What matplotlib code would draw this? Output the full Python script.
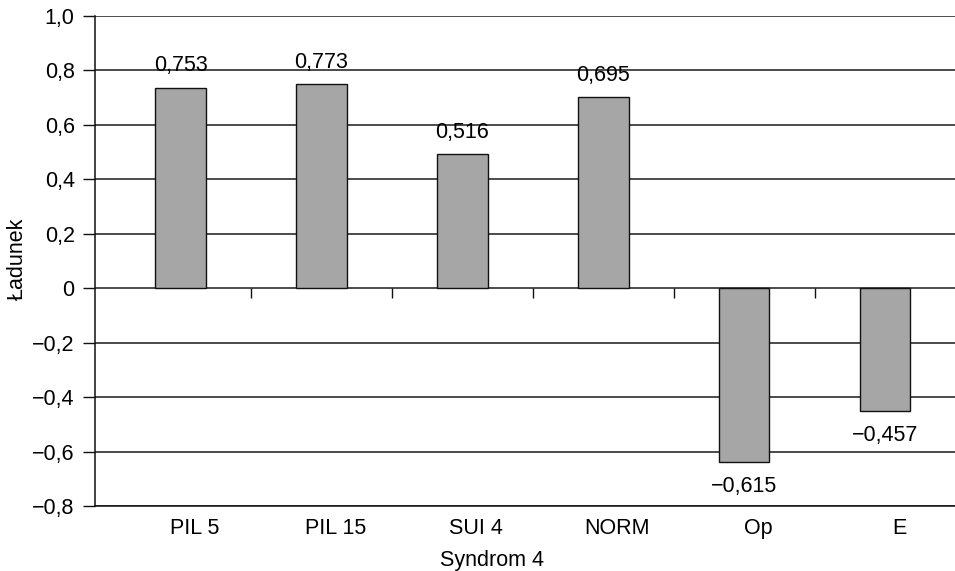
import matplotlib
matplotlib.use("Agg")
import matplotlib.pyplot as plt
import matplotlib.transforms as mtransforms
import numpy as np

plt.rcParams['font.family'] = ['Liberation Sans', 'DejaVu Sans']

categories = ["PIL 5", "PIL 15", "SUI 4", "NORM", "Op", "E"]
bar_values = [0.737, 0.749, 0.492, 0.702, -0.639, -0.452]
value_labels = ["0,753", "0,773", "0,516", "0,695", "\u22120,615", "\u22120,457"]
y_ticks = [-0.8, -0.6, -0.4, -0.2, 0.0, 0.2, 0.4, 0.6, 0.8, 1.0]
y_tick_labels = ["\u22120,8", "\u22120,6", "\u22120,4", "\u22120,2", "0",
                 "0,2", "0,4", "0,6", "0,8", "1,0"]
x_label = "Syndrom 4"
y_label = "Ładunek"

FS = 15.5

fig = plt.figure(figsize=(9.55, 5.71), dpi=100)
ax = fig.add_axes([95/955, 1-506/571, 1-95/955 + 0.02, (506-16)/571])

x = np.arange(len(categories))
ymin, ymax = y_ticks[0], y_ticks[-1]
ax.set_ylim(ymin, ymax)
ax.set_xlim(-0.607, 5.497 + 0.02*955/140.9)

# gridlines
for yt in y_ticks:
    ax.axhline(yt, color='#1a1a1a', lw=1.1, zorder=1)

bars = ax.bar(x, bar_values, width=0.36, color='#a6a6a6', edgecolor='#111111',
              linewidth=1.0, zorder=3)

for xi, v, lab in zip(x, bar_values, value_labels):
    if v >= 0:
        ax.annotate(lab, (xi, v), xytext=(0, 8), textcoords='offset points',
                    ha='center', va='bottom', fontsize=FS)
    else:
        ax.annotate(lab, (xi, v), xytext=(0, -10), textcoords='offset points',
                    ha='center', va='top', fontsize=FS)

ax.set_yticks(y_ticks)
ax.set_yticklabels(y_tick_labels, fontsize=FS)
ax.tick_params(axis='y', direction='out', length=8.6, width=1.0, pad=6, colors='#111111')
ax.tick_params(axis='y', labelcolor='black')

ax.set_xticks(x)
ax.set_xticklabels(categories, fontsize=FS)
ax.tick_params(axis='x', length=0, pad=8.5)
shift = mtransforms.ScaledTranslation(0.14, 0, fig.dpi_scale_trans)
for lbl in ax.get_xticklabels():
    lbl.set_transform(lbl.get_transform() + shift)

# boundary ticks on the zero line
sec = ax.secondary_xaxis((0 - ymin) / (ymax - ymin))
sec.set_xticks(x[:-1] + 0.5)
sec.set_xticklabels([])
sec.tick_params(direction='out', length=7.5, width=1.0, colors='#111111')
sec.spines['bottom'].set_visible(False)

for s in ['top', 'right']:
    ax.spines[s].set_visible(False)
ax.spines['left'].set_linewidth(1.1)
ax.spines['left'].set_color('#111111')
ax.spines['bottom'].set_linewidth(1.1)
ax.spines['bottom'].set_color('#111111')

ax.set_xlabel(x_label, fontsize=FS)
ax.xaxis.set_label_coords((483-95)/860, -0.089)
ax.set_ylabel(y_label, fontsize=FS)
ax.yaxis.set_label_coords(-0.076, 0.505)

fig.savefig("out.png", dpi=100)
